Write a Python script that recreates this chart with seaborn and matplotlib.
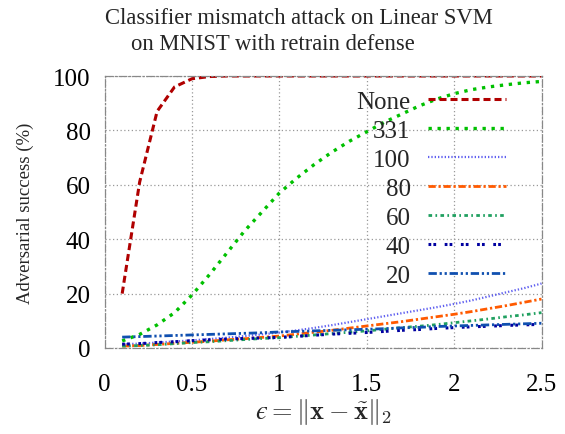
import matplotlib
matplotlib.use("Agg")
import matplotlib.pyplot as plt
import seaborn as sns
import numpy as np
import pandas as pd

eps = [0.1, 0.2, 0.3, 0.4, 0.5, 0.6, 0.7, 0.8, 0.9, 1.0, 1.1, 1.2, 1.3,
       1.4, 1.5, 1.6, 1.7, 1.8, 1.9, 2.0, 2.1, 2.2, 2.3, 2.4, 2.5]

labels = ["None", "331", "100", "80", "60", "40", "20"]

s_none = [20, 61, 87, 96, 99, 99.8, 100, 100, 100, 100, 100, 100, 100,
          100, 100, 100, 100, 100, 100, 100, 100, 100, 100, 100, 100]
s_331 = [2.6, 5, 8.5, 13, 19.5, 27, 35, 43, 50, 57, 62.5, 67.5, 72,
         76, 79.5, 83, 86, 89, 91.5, 93.5, 95, 96, 96.8, 97.5, 98]
s_100 = [1.4, 1.6, 2, 2.4, 2.8, 3.3, 3.8, 4.4, 5, 5.7, 6.5, 7.4, 8.4,
         9.5, 10.6, 11.7, 12.8, 13.9, 15, 16.2, 17.5, 19, 20.5, 22, 23.7]
s_80 = [0.7, 0.9, 1.3, 1.7, 2.1, 2.5, 3, 3.4, 3.9, 4.4, 5.1, 5.8, 6.5,
        7.3, 8.1, 8.9, 9.7, 10.6, 11.5, 12.4, 13.4, 14.5, 15.6, 16.8, 18]
s_60 = [0.7, 0.9, 1.2, 1.6, 2, 2.3, 2.7, 3.1, 3.5, 3.8, 4.3, 4.8, 5.3,
        5.8, 6.3, 6.9, 7.5, 8, 8.6, 9.3, 10, 10.7, 11.5, 12.2, 13]
s_40 = [1.4, 1.6, 2, 2.3, 2.7, 3, 3.3, 3.5, 3.7, 3.9, 4.3, 4.7, 5.1,
        5.4, 5.7, 6.1, 6.5, 6.8, 7.2, 7.5, 7.8, 8, 8.3, 8.5, 8.7]
s_20 = [4, 4.2, 4.4, 4.6, 4.8, 5, 5.2, 5.4, 5.6, 5.9, 6.1, 6.3, 6.5,
        6.7, 6.9, 7.1, 7.4, 7.6, 7.9, 8.1, 8.3, 8.5, 8.7, 8.9, 9.1]

x_ticks = [0, 0.5, 1, 1.5, 2, 2.5]
x_ticklabels = ["0", "0.5", "1", "1.5", "2", "2.5"]
y_ticks = [0, 20, 40, 60, 80, 100]

title_lines = ["Classifier mismatch attack on Linear SVM", "on MNIST with retrain defense"]

series = [s_none, s_331, s_100, s_80, s_60, s_40, s_20]

sns.set_style("white")
plt.rcParams["font.family"] = ["Liberation Serif", "DejaVu Serif"]
plt.rcParams["mathtext.fontset"] = "cm"

styles = [
    dict(color="#b00000", lw=2.2, ls=(0, (2.3, 1.3))),
    dict(color="#00c000", lw=2.4, ls=(0, (1.0, 1.7))),
    dict(color="#6060f0", lw=1.6, ls=(0, (0.6, 0.9))),
    dict(color="#ff5a00", lw=2.0, ls=(0, (2.6, 1.0, 0.8, 1.0))),
    dict(color="#20a060", lw=2.0, ls=(0, (1.3, 1.2, 0.6, 1.2))),
    dict(color="#0000a0", lw=2.2, ls=(0, (0.9, 0.7, 0.9, 2.8))),
    dict(color="#1050b0", lw=2.0, ls=(0, (3.0, 1.0, 0.8, 1.0, 0.8, 1.0))),
]

df = pd.DataFrame({"eps": eps})
for lab, s in zip(labels, series):
    df[lab] = s

fig = plt.figure(figsize=(5.65, 4.35), dpi=100)
ax = fig.add_axes([104.7 / 565, 1 - 349 / 435, (541.5 - 104.7) / 565, (349 - 77) / 435])

for lab, st in zip(labels, styles):
    sns.lineplot(data=df, x="eps", y=lab, ax=ax, color=st["color"], linewidth=st["lw"],
                 linestyle=st["ls"], label=lab)

ax.set_xlim(0, 2.5)
ax.set_ylim(0, 100)
ax.set_xticks(x_ticks)
ax.set_xticklabels(x_ticklabels)
ax.set_yticks(y_ticks)
ax.tick_params(axis="both", length=0, labelsize=18, colors="black")
ax.tick_params(axis="x", pad=18)
ax.tick_params(axis="y", pad=10)
ax.grid(True, color="#999999", linestyle=(0, (1, 2)), linewidth=0.9)
for sp in ax.spines.values():
    sp.set_visible(True)
    sp.set_color("#888888")
    sp.set_linewidth(0.9)
    sp.set_linestyle((0, (6, 2, 1, 2)))

ax.set_xlabel("$\u03f5 = \\|\\mathbf{x} - \\tilde{\\mathbf{x}}\\|_2$", fontsize=19, labelpad=1)
ax.set_ylabel("Adversarial success (%)", fontsize=13.5, labelpad=14)

fig.text(298.5 / 565, 1 - 18 / 435, title_lines[0], fontsize=16.3, ha="center", va="center")
fig.text(272.5 / 565, 1 - 45 / 435, title_lines[1], fontsize=16.3, ha="center", va="center")

leg = ax.legend(loc="upper right", bbox_to_anchor=(0.918, 0.946), frameon=False,
                markerfirst=False, fontsize=18, handlelength=3.12, handletextpad=0.68,
                labelspacing=0.26, borderpad=0, borderaxespad=0)

fig.savefig("out.png", dpi=100)
